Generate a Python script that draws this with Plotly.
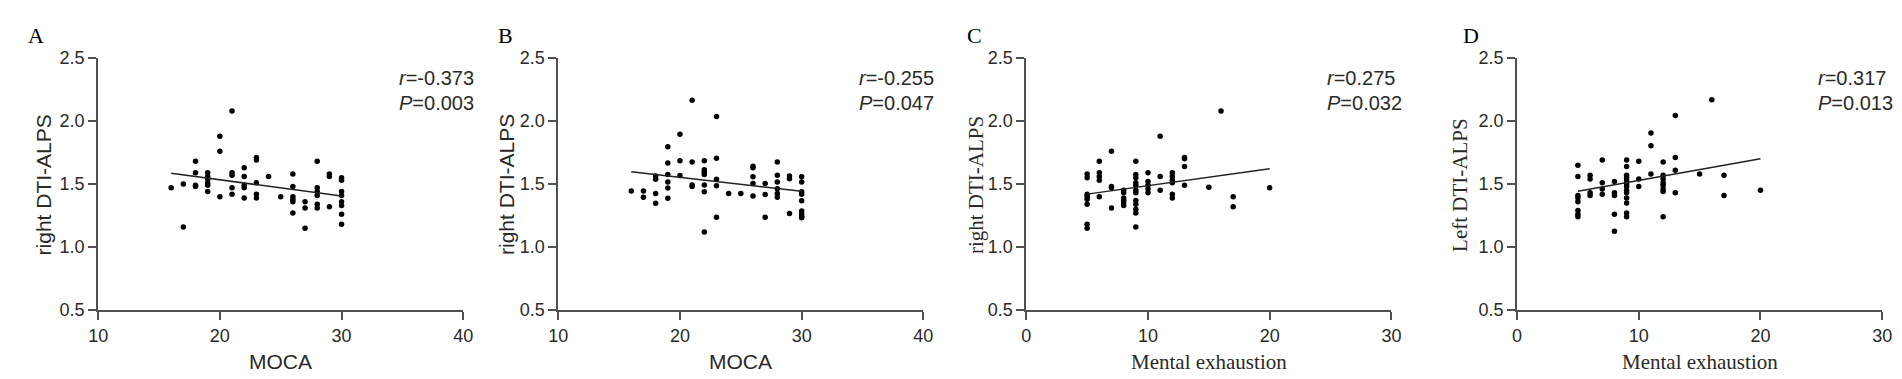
import plotly.graph_objects as go

W, H = 1902, 379

# ---------------- data ----------------
panel_letters = ["A", "B", "C", "D"]
x_titles = ["MOCA", "MOCA", "Mental exhaustion", "Mental exhaustion"]
y_titles = ["right DTI-ALPS", "right DTI-ALPS", "right DTI-ALPS", "Left DTI-ALPS"]
r_texts = ["-0.373", "-0.255", "0.275", "0.317"]
p_texts = ["0.003", "0.047", "0.032", "0.013"]
x_ranges = [[10, 40], [10, 40], [0, 30], [0, 30]]
x_ticks = [[10, 20, 30, 40], [10, 20, 30, 40], [0, 10, 20, 30], [0, 10, 20, 30]]
y_ticks = [0.5, 1.0, 1.5, 2.0, 2.5]

xA = [16, 17, 17, 18, 18, 18, 18, 19, 19, 19, 19, 19, 19, 20, 20, 20,
      21, 21, 21, 21, 21, 22, 22, 22, 22, 22, 23, 23, 23, 23, 23, 24, 25,
      26, 26, 26, 26, 26, 26, 27, 27, 27, 28, 28, 28, 28, 28, 28, 29, 29, 29,
      30, 30, 30, 30, 30, 30, 30, 30]
yA = [1.47, 1.50, 1.16, 1.68, 1.59, 1.49, 1.48, 1.59, 1.56, 1.54, 1.51, 1.49, 1.44,
      1.88, 1.76, 1.40, 2.08, 1.59, 1.57, 1.47, 1.42, 1.63, 1.56, 1.49, 1.47, 1.39,
      1.71, 1.69, 1.51, 1.42, 1.39, 1.56, 1.40, 1.58, 1.48, 1.40, 1.38, 1.36, 1.27,
      1.36, 1.31, 1.15, 1.68, 1.47, 1.44, 1.41, 1.34, 1.31, 1.58, 1.56, 1.32,
      1.55, 1.53, 1.44, 1.41, 1.36, 1.33, 1.26, 1.18]

xB = [16, 17, 17, 18, 18, 18, 18, 19, 19, 19, 19, 19, 19, 20, 20, 20,
      21, 21, 21, 21, 22, 22, 22, 22, 22, 22, 22, 23, 23, 23, 23, 23, 24, 25,
      26, 26, 26, 26, 26, 27, 27, 27, 28, 28, 28, 28, 28, 28, 29, 29, 29,
      30, 30, 30, 30, 30, 30, 30, 30, 30]
yB = [1.445, 1.445, 1.395, 1.563, 1.538, 1.425, 1.347, 1.797, 1.667, 1.575, 1.517, 1.468, 1.387,
      1.895, 1.685, 1.567, 2.165, 1.675, 1.492, 1.48, 1.685, 1.613, 1.593, 1.575, 1.492, 1.438, 1.12,
      2.037, 1.705, 1.538, 1.487, 1.237, 1.425, 1.425, 1.642, 1.63, 1.557, 1.505, 1.405,
      1.505, 1.418, 1.237, 1.675, 1.57, 1.517, 1.462, 1.425, 1.395, 1.563, 1.542, 1.267,
      1.557, 1.517, 1.438, 1.42, 1.367, 1.287, 1.262, 1.242, 1.232]

xC = [5, 5, 5, 5, 5, 5, 5, 5, 6, 6, 6, 6, 6, 7, 7, 7, 7, 8, 8, 8, 8, 8, 8,
      9, 9, 9, 9, 9, 9, 9, 9, 9, 9, 9, 9, 10, 10, 10, 10, 10, 11, 11, 11,
      12, 12, 12, 12, 12, 12, 13, 13, 13, 13, 15, 16, 17, 17, 20]
yC = [1.58, 1.55, 1.42, 1.40, 1.38, 1.34, 1.18, 1.15, 1.68, 1.59, 1.56, 1.53, 1.40,
      1.76, 1.48, 1.47, 1.31, 1.45, 1.43, 1.39, 1.37, 1.35, 1.33,
      1.68, 1.575, 1.55, 1.51, 1.49, 1.45, 1.43, 1.37, 1.34, 1.30, 1.27, 1.16,
      1.59, 1.52, 1.49, 1.46, 1.43, 1.88, 1.56, 1.45,
      1.59, 1.56, 1.53, 1.51, 1.42, 1.39, 1.71, 1.70, 1.64, 1.49, 1.475, 2.08, 1.40, 1.32, 1.47]

xD = [5, 5, 5, 5, 5, 5, 5, 5, 6, 6, 6, 6, 7, 7, 7, 7, 8, 8, 8, 8, 8,
      9, 9, 9, 9, 9, 9, 9, 9, 9, 9, 9, 9, 9, 10, 10, 10, 11, 11, 11,
      12, 12, 12, 12, 12, 12, 12, 12, 13, 13, 13, 13, 15, 16, 17, 17, 20]
yD = [1.65, 1.56, 1.41, 1.39, 1.36, 1.29, 1.26, 1.24, 1.57, 1.54, 1.43, 1.41,
      1.69, 1.51, 1.46, 1.42, 1.52, 1.43, 1.41, 1.26, 1.125,
      1.69, 1.64, 1.57, 1.55, 1.53, 1.50, 1.48, 1.45, 1.43, 1.39, 1.35, 1.27, 1.24,
      1.68, 1.54, 1.48, 1.905, 1.805, 1.58,
      1.675, 1.57, 1.54, 1.51, 1.49, 1.46, 1.44, 1.24, 2.045, 1.71, 1.61, 1.43,
      1.58, 2.17, 1.57, 1.41, 1.45]

# regression line end points
fit_x = [[16, 30], [16, 30], [5, 20], [5, 20]]
fit_y = [[1.585, 1.405], [1.597, 1.443], [1.42, 1.622], [1.442, 1.70]]

xs = [xA, xB, xC, xD]
ys = [yA, yB, yC, yD]

# ---------------- layout (pixels) ----------------
axis_left = [81, 546, 1019, 1515]
axis_w = 369
plot_top, plot_bot = 42.3, 308.3
letter_x = [8, 483, 957, 1458]
ytitle_x = [26, 493.5, 967.5, 1457.5]
stats_dx = 302
sans = "Arial, Liberation Sans, sans-serif"
serif = "Times New Roman, Liberation Serif, serif"
title_fonts = [sans, sans, serif, serif]
axcol = "#505050"
txtcol = "#2a2a2a"

fig = go.Figure()
annotations = []
for i in range(4):
    sfx = "" if i == 0 else str(i + 1)
    fig.add_trace(go.Scatter(x=xs[i], y=ys[i], mode="markers",
                             marker=dict(color="black", size=5.5),
                             xaxis="x" + sfx, yaxis="y" + sfx, showlegend=False))
    fig.add_trace(go.Scatter(x=fit_x[i], y=fit_y[i], mode="lines",
                             line=dict(color="#222222", width=1.5),
                             xaxis="x" + sfx, yaxis="y" + sfx, showlegend=False))
    x0 = axis_left[i] / W
    x1 = (axis_left[i] + axis_w) / W
    fig.layout["xaxis" + sfx] = dict(
        domain=[x0, x1], range=x_ranges[i], tickvals=x_ticks[i],
        anchor="y" + sfx, showline=True, linecolor=axcol, linewidth=2,
        ticks="outside", ticklen=8, tickwidth=2, tickcolor=axcol,
        showgrid=False, zeroline=False,
        tickfont=dict(family=sans, size=18, color=txtcol))
    fig.layout["yaxis" + sfx] = dict(
        domain=[1 - plot_bot / H, 1 - plot_top / H], range=[0.5, 2.5],
        tickvals=y_ticks, tickformat=".1f",
        anchor="x" + sfx, showline=True, linecolor=axcol, linewidth=2,
        ticks="outside", ticklen=8, tickwidth=2, tickcolor=axcol,
        showgrid=False, zeroline=False,
        tickfont=dict(family=sans, size=18, color=txtcol))
    # panel letter
    annotations.append(dict(text=panel_letters[i], x=letter_x[i] / W, y=1 - 18.5 / H,
                            xref="paper", yref="paper", xanchor="left", yanchor="middle",
                            showarrow=False, font=dict(family=serif, size=22, color="black")))
    # x title
    annotations.append(dict(text=x_titles[i], x=(axis_left[i] + axis_w / 2) / W, y=1 - 363 / H,
                            xref="paper", yref="paper", xanchor="center", yanchor="middle",
                            showarrow=False, font=dict(family=title_fonts[i], size=21, color=txtcol)))
    # y title
    annotations.append(dict(text=y_titles[i], x=ytitle_x[i] / W, y=1 - 176 / H, textangle=-90,
                            xref="paper", yref="paper", xanchor="center", yanchor="middle",
                            showarrow=False, font=dict(family=title_fonts[i], size=21, color=txtcol)))
    # stats
    annotations.append(dict(text="<i>r</i>=" + r_texts[i], x=(axis_left[i] + stats_dx) / W,
                            y=1 - 63 / H, xref="paper", yref="paper", xanchor="left",
                            yanchor="middle", showarrow=False,
                            font=dict(family=sans, size=20, color=txtcol)))
    annotations.append(dict(text="<i>P</i>=" + p_texts[i], x=(axis_left[i] + stats_dx) / W,
                            y=1 - 90 / H, xref="paper", yref="paper", xanchor="left",
                            yanchor="middle", showarrow=False,
                            font=dict(family=sans, size=20, color=txtcol)))

fig.update_layout(width=W, height=H, margin=dict(l=0, r=0, t=0, b=0),
                  paper_bgcolor="white", plot_bgcolor="white",
                  annotations=annotations)
fig.write_html("out.html")
